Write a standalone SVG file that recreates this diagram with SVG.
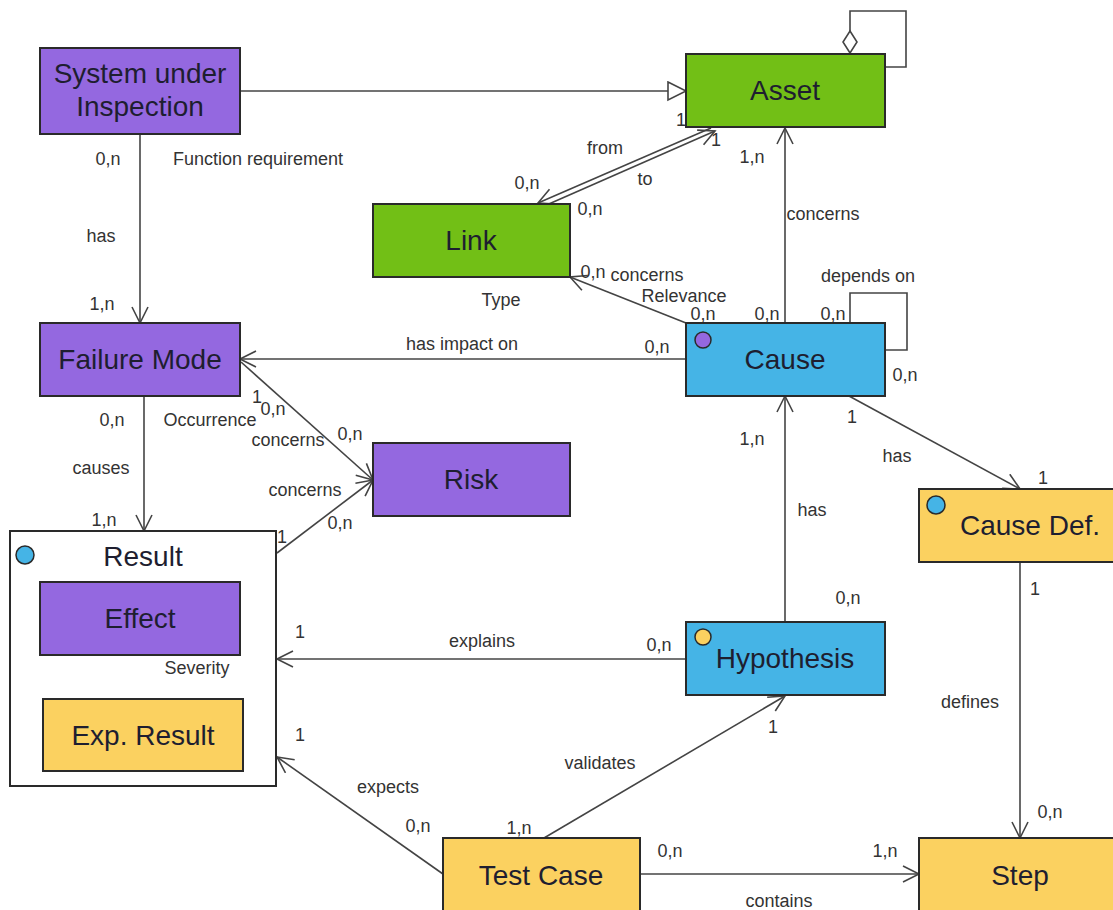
<svg xmlns="http://www.w3.org/2000/svg" width="1113" height="910" viewBox="0 0 1113 910">
  <style>
    .node { stroke: #2a2a2a; stroke-width: 2; }
    .purple { fill: #9468e0; }
    .green { fill: #72bf16; }
    .blue { fill: #45b4e6; }
    .yellow { fill: #fbd160; }
    .white { fill: #ffffff; }
    .title { font-family: "Liberation Sans", Arial, sans-serif; font-size: 28px; fill: #1e1e30; text-anchor: middle; }
    .lbl { font-family: "Liberation Sans", Arial, sans-serif; font-size: 18px; fill: #333; text-anchor: middle; }
    .conn { fill: none; stroke: #444; stroke-width: 1.6; }
    .dot { stroke: #2a2a2a; stroke-width: 1.5; }
  </style>
  <defs>
    <marker id="open" markerUnits="userSpaceOnUse" markerWidth="20" markerHeight="20" refX="17" refY="9" orient="auto-start-reverse">
      <path d="M1,1 L17,9 L1,17" fill="none" stroke="#444" stroke-width="1.6"/>
    </marker>
    <marker id="gen" markerUnits="userSpaceOnUse" markerWidth="22" markerHeight="22" refX="19" refY="10" orient="auto">
      <path d="M1,1 L19,10 L1,19 Z" fill="#fff" stroke="#444" stroke-width="1.6"/>
    </marker>
  </defs>

  <!-- connectors -->
  <g id="connectors">
    <!-- generalization -->
    <path class="conn" d="M240,91 H686" marker-end="url(#gen)"/>
    <!-- Asset aggregation self loop -->
    <path class="conn" d="M850,54 V11 H906 V67 H885"/>
    <polygon points="850,31 857,42 850,53 843,42" fill="#fff" stroke="#444" stroke-width="1.6"/>
    <!-- Link from/to Asset -->
    <path class="conn" d="M538,203 L711,128" marker-start="url(#open)"/>
    <path class="conn" d="M542,207 L715,131" marker-end="url(#open)"/>
    <!-- SUI has Failure Mode -->
    <path class="conn" d="M140,134 V323" marker-end="url(#open)"/>
    <!-- Cause concerns Asset -->
    <path class="conn" d="M785,323 V128" marker-end="url(#open)"/>
    <!-- Cause depends on self loop -->
    <path class="conn" d="M850,323 V293 H907 V350 H885"/>
    <!-- Cause concerns Link -->
    <path class="conn" d="M686,323 L570,277" marker-end="url(#open)"/>
    <!-- Cause has impact on Failure Mode -->
    <path class="conn" d="M686,359 H240" marker-end="url(#open)"/>
    <!-- Failure Mode causes Result -->
    <path class="conn" d="M144,396 V531" marker-end="url(#open)"/>
    <!-- Failure Mode concerns Risk -->
    <path class="conn" d="M241,362 L373,480" marker-end="url(#open)"/>
    <!-- Result concerns Risk -->
    <path class="conn" d="M277,553 L373,480" marker-end="url(#open)"/>
    <!-- Cause has Cause Def. -->
    <path class="conn" d="M849,396 L1020,489" marker-end="url(#open)"/>
    <!-- Hypothesis has Cause -->
    <path class="conn" d="M785,622 V396" marker-end="url(#open)"/>
    <!-- Hypothesis explains Result -->
    <path class="conn" d="M686,659 H277" marker-end="url(#open)"/>
    <!-- Cause Def. defines Step -->
    <path class="conn" d="M1020,562 V838" marker-end="url(#open)"/>
    <!-- Test Case contains Step -->
    <path class="conn" d="M640,874 H919" marker-end="url(#open)"/>
    <!-- Test Case validates Hypothesis -->
    <path class="conn" d="M544,838 L785,696" marker-end="url(#open)"/>
    <!-- Test Case expects Result -->
    <path class="conn" d="M443,874 L277,757" marker-end="url(#open)"/>
  </g>

  <!-- connector labels -->
  <g id="labels">
    <text class="lbl" x="108" y="165">0,n</text>
    <text class="lbl" x="258" y="165">Function requirement</text>
    <text class="lbl" x="101" y="242">has</text>
    <text class="lbl" x="102" y="310">1,n</text>

    <text class="lbl" x="681" y="126">1</text>
    <text class="lbl" x="716" y="146">1</text>
    <text class="lbl" x="605" y="154">from</text>
    <text class="lbl" x="645" y="185">to</text>
    <text class="lbl" x="527" y="189">0,n</text>
    <text class="lbl" x="590" y="215">0,n</text>

    <text class="lbl" x="752" y="163">1,n</text>
    <text class="lbl" x="823" y="220">concerns</text>
    <text class="lbl" x="868" y="282">depends on</text>
    <text class="lbl" x="767" y="320">0,n</text>
    <text class="lbl" x="833" y="320">0,n</text>
    <text class="lbl" x="905" y="381">0,n</text>

    <text class="lbl" x="593" y="278">0,n</text>
    <text class="lbl" x="647" y="281">concerns</text>
    <text class="lbl" x="684" y="302">Relevance</text>
    <text class="lbl" x="703" y="320">0,n</text>
    <text class="lbl" x="501" y="306">Type</text>

    <text class="lbl" x="462" y="350">has impact on</text>
    <text class="lbl" x="657" y="353">0,n</text>

    <text class="lbl" x="112" y="426">0,n</text>
    <text class="lbl" x="210" y="426">Occurrence</text>
    <text class="lbl" x="101" y="474">causes</text>
    <text class="lbl" x="104" y="526">1,n</text>

    <text class="lbl" x="257" y="403">1</text>
    <text class="lbl" x="273" y="415">0,n</text>
    <text class="lbl" x="288" y="446">concerns</text>
    <text class="lbl" x="350" y="440">0,n</text>
    <text class="lbl" x="305" y="496">concerns</text>
    <text class="lbl" x="340" y="529">0,n</text>
    <text class="lbl" x="282" y="543">1</text>

    <text class="lbl" x="852" y="423">1</text>
    <text class="lbl" x="897" y="462">has</text>
    <text class="lbl" x="1043" y="484">1</text>
    <text class="lbl" x="752" y="445">1,n</text>
    <text class="lbl" x="812" y="516">has</text>
    <text class="lbl" x="848" y="604">0,n</text>

    <text class="lbl" x="300" y="638">1</text>
    <text class="lbl" x="482" y="647">explains</text>
    <text class="lbl" x="659" y="651">0,n</text>

    <text class="lbl" x="1035" y="595">1</text>
    <text class="lbl" x="970" y="708">defines</text>
    <text class="lbl" x="1050" y="818">0,n</text>

    <text class="lbl" x="300" y="741">1</text>
    <text class="lbl" x="388" y="793">expects</text>
    <text class="lbl" x="418" y="832">0,n</text>
    <text class="lbl" x="600" y="769">validates</text>
    <text class="lbl" x="773" y="733">1</text>
    <text class="lbl" x="519" y="834">1,n</text>

    <text class="lbl" x="670" y="857">0,n</text>
    <text class="lbl" x="885" y="857">1,n</text>
    <text class="lbl" x="779" y="907">contains</text>
  </g>

  <!-- nodes -->
  <g id="system-under-inspection">
    <rect class="node purple" x="40" y="48" width="200" height="86"/>
    <text class="title" x="140" y="83">System under</text>
    <text class="title" x="140" y="116">Inspection</text>
  </g>
  <g id="asset">
    <rect class="node green" x="686" y="54" width="199" height="73"/>
    <text class="title" x="785" y="100">Asset</text>
  </g>
  <g id="link">
    <rect class="node green" x="373" y="204" width="197" height="73"/>
    <text class="title" x="471" y="250">Link</text>
  </g>
  <g id="cause">
    <rect class="node blue" x="686" y="323" width="199" height="73"/>
    <circle class="dot" cx="703" cy="340" r="8" fill="#9468e0"/>
    <text class="title" x="785" y="369">Cause</text>
  </g>
  <g id="failure-mode">
    <rect class="node purple" x="40" y="323" width="200" height="73"/>
    <text class="title" x="140" y="369">Failure Mode</text>
  </g>
  <g id="risk">
    <rect class="node purple" x="373" y="443" width="197" height="73"/>
    <text class="title" x="471" y="489">Risk</text>
  </g>
  <g id="result">
    <rect class="node white" x="10" y="531" width="266" height="255"/>
    <circle class="dot" cx="25" cy="555" r="9" fill="#45b4e6"/>
    <text class="title" x="143" y="566">Result</text>
  </g>
  <g id="effect">
    <rect class="node purple" x="40" y="582" width="200" height="73"/>
    <text class="title" x="140" y="628">Effect</text>
    <text class="lbl" x="197" y="674">Severity</text>
  </g>
  <g id="exp-result">
    <rect class="node yellow" x="43" y="699" width="200" height="72"/>
    <text class="title" x="143" y="745">Exp. Result</text>
  </g>
  <g id="cause-def">
    <rect class="node yellow" x="919" y="489" width="200" height="73"/>
    <circle class="dot" cx="936" cy="505" r="9" fill="#45b4e6"/>
    <text class="title" x="1030" y="535">Cause Def.</text>
  </g>
  <g id="hypothesis">
    <rect class="node blue" x="686" y="622" width="199" height="73"/>
    <circle class="dot" cx="703" cy="637" r="8" fill="#fbd160"/>
    <text class="title" x="785" y="668">Hypothesis</text>
  </g>
  <g id="test-case">
    <rect class="node yellow" x="443" y="838" width="197" height="80"/>
    <text class="title" x="541" y="885">Test Case</text>
  </g>
  <g id="step">
    <rect class="node yellow" x="919" y="838" width="200" height="80"/>
    <text class="title" x="1020" y="885">Step</text>
  </g>
</svg>
